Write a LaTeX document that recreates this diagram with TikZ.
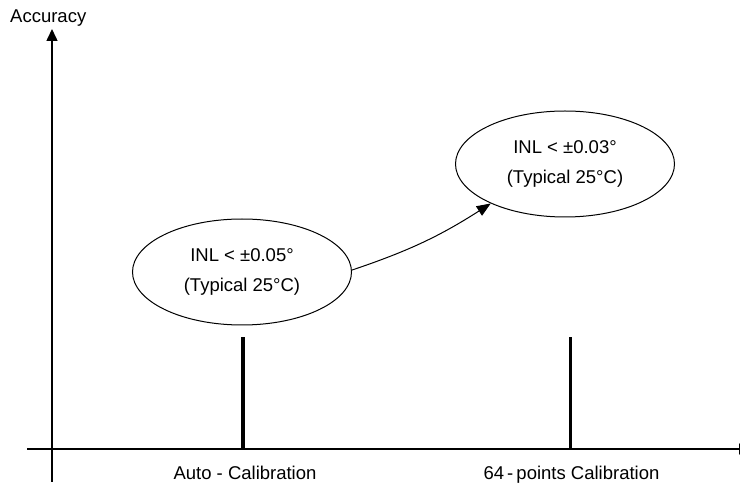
\documentclass[tikz,border=0pt]{standalone}
\usepackage{fontspec}
\setmainfont{Liberation Sans}
\usetikzlibrary{arrows.meta,shapes.geometric}
\begin{document}
\begin{tikzpicture}[x=1pt,y=-1pt,
  lbl/.style={font=\fontsize{18.5}{22}\selectfont, inner sep=0pt},
  axis/.style={line width=1.5pt,-{Triangle[length=12pt,width=11pt]}},
  barline/.style={line width=3.5pt},
  bubble/.style={ellipse,draw,line width=1pt,minimum width=219pt,minimum height=106pt,
    inner sep=0pt,align=center,font=\fontsize{18.5}{30}\selectfont},
  conn/.style={line width=1pt,-{Triangle[length=14pt,width=11pt]}}
]
\useasboundingbox (0,0) rectangle (740,486);
\clip (0,0) rectangle (740,486);
% axes
\coordinate (yb) at (52,482);
\coordinate (yt) at (52,29);
\coordinate (xl) at (27,449);
\coordinate (xr) at (751,449);
\draw[axis] (yb) -- (yt);
\draw[axis] (xl) -- (xr);
\node[lbl,anchor=base west] (ylab) at (10,23) {Accuracy};
% bars
\coordinate (b1b) at (243,449);
\coordinate (b1t) at (243,337);
\coordinate (b2b) at (570.5,449);
\coordinate (b2t) at (570.5,337);
\draw[barline] (b1b) -- (b1t);
\draw[barline] (b2b) -- (b2t);
% labels
\node[lbl,anchor=base] (l1) at (245,480) {Auto - Calibration};
\node[lbl,anchor=base] (l2) at (571.5,480) {64\,-\,points Calibration};
% ellipses
\node[bubble] (e1) at (242,272) {INL < ±0.05°\\(Typical 25°C)};
\node[bubble] (e2) at (565,164) {INL < ±0.03°\\(Typical 25°C)};
\draw[conn] (e1.1) to[bend right=7] (e2.208);
\end{tikzpicture}
\end{document}
